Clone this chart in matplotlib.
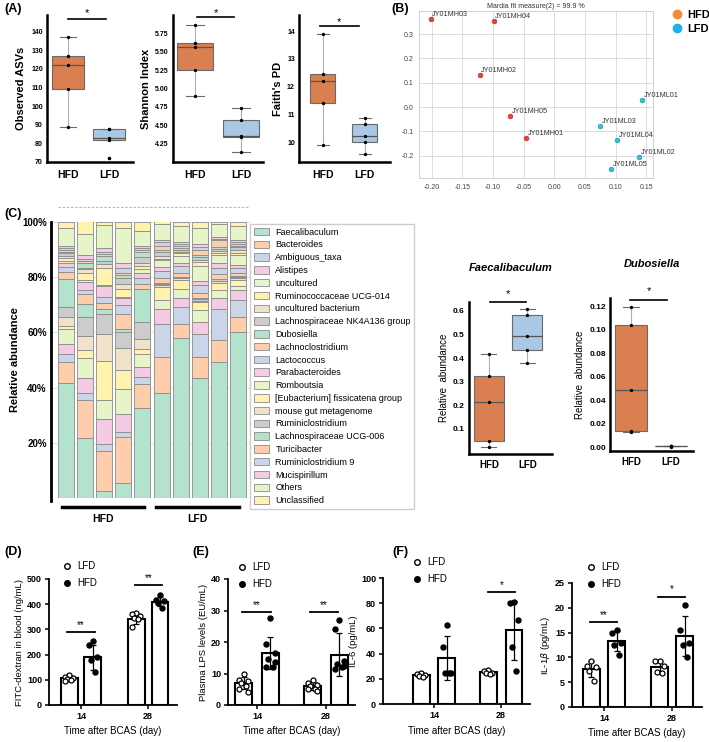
import numpy as np
import matplotlib
matplotlib.use('Agg')
import matplotlib.pyplot as plt
from matplotlib.patches import Patch
from matplotlib.lines import Line2D

plt.rcParams['font.family'] = ['Liberation Sans', 'DejaVu Sans']

W, H = 709, 742
ORANGE = '#DA8050'
BLUE = '#A8C8E4'

# (A) alpha diversity, 5 mice per group
asv_hfd = [89, 109, 122, 127, 137]
asv_lfd = [72, 82, 83, 88, 88]
shannon_hfd = [4.90, 5.25, 5.57, 5.62, 5.87]
shannon_lfd = [4.13, 4.34, 4.35, 4.57, 4.74]
faith_hfd = [9.9, 11.4, 12.2, 12.45, 13.9]
faith_lfd = [9.57, 10.0, 10.22, 10.65, 10.86]

# (B) ordination
names_h = ['JY01MH01', 'JY01MH02', 'JY01MH03', 'JY01MH04', 'JY01MH05']
x_h = [-0.046, -0.122, -0.202, -0.099, -0.072]
y_h = [-0.128, 0.132, 0.362, 0.354, -0.037]
names_l = ['JY01ML01', 'JY01ML02', 'JY01ML03', 'JY01ML04', 'JY01ML05']
x_l = [0.143, 0.138, 0.075, 0.103, 0.093]
y_l = [0.029, -0.206, -0.078, -0.136, -0.255]

# (C) genus composition (%), bottom to top
taxa = ['Faecalibaculum', 'Bacteroides', 'Ambiguous_taxa', 'Alistipes', 'uncultured',
        'Ruminococcaceae UCG-014', 'uncultured bacterium', 'Lachnospiraceae NK4A136 group',
        'Dubosiella', 'Lachnoclostridium', 'Lactococcus', 'Parabacteroides', 'Romboutsia',
        '[Eubacterium] fissicatena group', 'mouse gut metagenome', 'Ruminiclostridium',
        'Lachnospiraceae UCG-006', 'Turicibacter', 'Ruminiclostridium 9', 'Mucispirillum',
        'Others', 'Unclassified']
hfd1 = [41.5, 7.75, 3.0, 3.6, 5.4, 1.2, 3.3, 3.6, 10.0, 2.7, 1.8, 1.2, 1.0, 0.8, 0.8, 1.0, 0.6, 0.6, 0.6, 0.8, 6.7, 2.1]
hfd2 = [21.8, 13.7, 2.4, 5.6, 7.2, 3.1, 5.0, 6.6, 4.8, 3.6, 1.6, 2.9, 0.6, 2.7, 1.2, 0.6, 1.6, 0.8, 0.8, 1.6, 7.5, 4.5]
hfd3 = [2.7, 14.5, 2.4, 9.1, 6.8, 14.3, 9.8, 6.9, 1.8, 2.4, 2.1, 4.1, 0.4, 6.0, 1.6, 0.8, 2.0, 0.6, 1.0, 1.2, 8.3, 1.3]
hfd4 = [5.5, 16.6, 1.9, 6.4, 9.1, 6.8, 8.0, 5.7, 1.4, 5.4, 3.2, 2.4, 0.4, 3.0, 1.9, 2.0, 1.2, 0.6, 1.8, 1.8, 12.9, 2.1]
hfd5 = [32.6, 8.7, 2.6, 3.6, 4.8, 1.8, 3.6, 6.0, 11.9, 2.0, 2.1, 1.8, 1.4, 1.3, 1.1, 2.1, 1.8, 0.8, 0.7, 0.5, 5.7, 3.1]
lfd1 = [37.9, 13.1, 12.2, 5.4, 3.1, 4.7, 0.6, 0.4, 0.4, 1.8, 2.6, 1.4, 2.5, 0.6, 1.1, 1.4, 0.5, 1.7, 1.2, 0.7, 6.0, 1.0]
lfd2 = [57.8, 5.4, 6.0, 3.1, 3.5, 3.3, 0.5, 0.4, 0.1, 1.4, 2.4, 1.2, 2.6, 1.0, 0.6, 0.6, 0.6, 0.8, 0.7, 0.7, 5.7, 1.7]
lfd3 = [43.5, 7.5, 8.3, 4.4, 4.3, 2.9, 0.6, 0.6, 0.2, 2.1, 2.7, 1.4, 5.4, 1.6, 0.8, 1.0, 0.6, 2.0, 1.0, 1.0, 6.0, 2.1]
lfd4 = [49.3, 7.8, 11.3, 4.2, 2.7, 2.6, 0.8, 0.6, 0.2, 1.6, 2.1, 1.8, 3.2, 0.6, 0.7, 0.8, 0.6, 2.4, 0.6, 0.8, 4.5, 0.7]
lfd5 = [60.2, 5.4, 6.3, 3.6, 1.4, 2.1, 0.6, 0.6, 0.2, 1.2, 1.6, 1.2, 3.6, 0.8, 1.0, 1.0, 0.5, 0.7, 0.7, 0.7, 5.0, 1.7]
samples = [hfd1, hfd2, hfd3, hfd4, hfd5, lfd1, lfd2, lfd3, lfd4, lfd5]

faec_hfd = [0.025, 0.05, 0.215, 0.325, 0.418]
faec_lfd = [0.38, 0.435, 0.494, 0.583, 0.608]
dubo_hfd = [0.013, 0.014, 0.049, 0.104, 0.119]
dubo_lfd = [0.0005, 0.001, 0.001, 0.0012, 0.0015]

# (D)-(F) order: LFD14, HFD14, LFD28, HFD28
fitc_mean = [108, 190, 340, 410]
fitc_sd = [10, 50, 18, 18]
fitc_pts = [[120, 112, 108, 105, 100, 95], [255, 238, 190, 180, 130],
            [365, 360, 355, 345, 340, 310], [435, 418, 412, 405, 385]]
lps_mean = [7.0, 16.5, 6.0, 16.0]
lps_sd = [1.8, 5.0, 1.2, 6.8]
lps_pts = [[10, 8, 7.5, 7, 6, 5, 4], [27.5, 19.5, 16.5, 14.5, 12, 12, 13.5],
           [8, 7, 6.5, 6, 5, 5, 4.5], [27, 24, 14, 13, 12, 11.5, 12.5]]
il6_mean = [23, 36.5, 25.5, 58.5]
il6_sd = [1.5, 17.5, 1.2, 23.5]
il6_pts = [[25, 24, 23, 22, 21.5], [63, 45, 25, 25, 25],
           [27, 26, 25, 25, 24], [81, 80, 67, 45, 26]]
il1b_mean = [7.6, 13.3, 8.0, 14.3]
il1b_sd = [1.6, 2.0, 1.2, 4.0]
il1b_pts = [[9.3, 8.2, 8.0, 7.2, 5.2], [15.5, 15.0, 13.0, 12.5, 10.5],
            [9.3, 9.2, 8.2, 7.0, 6.8], [20.5, 15.5, 13.0, 12.5, 10.0]]
days = ['14', '28']


def add_ax(l, t, r, b):
    return fig.add_axes([l / W, 1 - b / H, (r - l) / W, (b - t) / H])


def fpos(x, y):
    return (x / W, 1 - y / H)


fig = plt.figure(figsize=(W / 100, H / 100), dpi=100)


def box_pair(ax, hfd, lfd, width, tsize=5, lsize=7.5):
    bp = ax.boxplot([hfd, lfd], positions=[1, 2], widths=width, patch_artist=True,
                    showfliers=False,
                    boxprops=dict(edgecolor='#6a6a6a', lw=0.8),
                    whiskerprops=dict(color='#b0b0b0', lw=0.8),
                    capprops=dict(color='#6a6a6a', lw=0.8),
                    medianprops=dict(color='#555555', lw=0.9))
    for patch, c in zip(bp['boxes'], [ORANGE, BLUE]):
        patch.set_facecolor(c)
    for pos, vals in zip([1, 2], [hfd, lfd]):
        ax.plot([pos] * len(vals), vals, 'o', ms=1.4, color='k', zorder=3)
    for s in ['top', 'right']:
        ax.spines[s].set_visible(False)
    for s in ['left', 'bottom']:
        ax.spines[s].set_linewidth(1.8)
    ax.set_xticks([1, 2])
    ax.set_xticklabels(['HFD', 'LFD'], fontsize=lsize, fontweight='bold')
    ax.tick_params(length=0, pad=4)
    ax.tick_params(axis='y', labelsize=tsize, pad=3)
    for t in ax.get_yticklabels():
        t.set_fontweight('bold')


def sig(ax, x0, x1, y, ys, txt, fs=8, lw=1.2):
    ax.plot([x0, x1], [y, y], color='k', lw=lw, clip_on=False)
    ax.text((x0 + x1) / 2, ys, txt, ha='center', va='center', fontsize=fs, clip_on=False)


# ---- (A)
ax = add_ax(47, 15, 133, 162)
box_pair(ax, asv_hfd, asv_lfd, 0.8)
ax.plot([2], [asv_lfd[0]], 'o', ms=1.4, color='k')
ax.set_xlim(0.49, 2.585)
ax.set_ylim(70, 149)
ax.set_yticks(range(70, 141, 10))
ax.set_ylabel('Observed ASVs', fontsize=8, fontweight='bold', labelpad=4)
ax.tick_params(axis='x', pad=6)
sig(ax, 1.0, 1.93, 147, 149.8, '*')

ax = add_ax(173, 15, 263, 162)
box_pair(ax, shannon_hfd, shannon_lfd, 0.8)
ax.set_xlim(0.52, 2.48)
ax.set_ylim(4.0, 6.0)
ax.set_yticks([4.25, 4.5, 4.75, 5.0, 5.25, 5.5, 5.75])
ax.set_ylabel('Shannon Index', fontsize=8, fontweight='bold', labelpad=3)
ax.tick_params(axis='x', pad=6)
sig(ax, 1.04, 1.85, 5.97, 6.02, '*')

ax = add_ax(299, 15, 390, 162)
box_pair(ax, faith_hfd, faith_lfd, 0.6)
ax.set_xlim(0.43, 2.6)
ax.set_ylim(9.28, 14.58)
ax.set_yticks([10, 11, 12, 13, 14])
ax.set_ylabel("Faith's PD", fontsize=8, fontweight='bold', labelpad=3)
ax.tick_params(axis='x', pad=6)
sig(ax, 0.93, 1.86, 14.18, 14.34, '*')

# ---- (B)
ax = add_ax(419, 11, 653, 178)
ax.scatter(x_h, y_h, s=12, color='#E5443A', edgecolor='#b02a22', lw=0.4, zorder=3)
ax.scatter(x_l, y_l, s=12, color='#35C3D6', edgecolor='#1f8fa0', lw=0.4, zorder=3)
for n, xx, yy in zip(names_h + names_l, x_h + x_l, y_h + y_l):
    ax.annotate(n, (xx, yy), xytext=(1.2, 0.8), textcoords='offset points',
                fontsize=5.2, color='#333333', va='bottom', ha='left')
ax.set_xlim(-0.221, 0.161)
ax.set_ylim(-0.292, 0.395)
ax.set_xticks([-0.20, -0.15, -0.10, -0.05, 0.0, 0.05, 0.10, 0.15])
ax.set_yticks([-0.2, -0.1, 0.0, 0.1, 0.2, 0.3])
ax.xaxis.set_major_formatter(matplotlib.ticker.FormatStrFormatter('%.2f'))
ax.yaxis.set_major_formatter(matplotlib.ticker.FormatStrFormatter('%.1f'))
ax.grid(True, color='#dcdcdc', lw=0.7)
ax.set_axisbelow(True)
for s in ax.spines.values():
    s.set_color('#d0d0d0')
    s.set_linewidth(0.7)
ax.tick_params(length=0, labelsize=5, colors='#444444', pad=4)
ax.set_title('Mardia fit measure(2) = 99.9 %', fontsize=5, color='#333333', pad=2)
fig.legend(handles=[Line2D([], [], marker='o', ls='', color='#F28C38', ms=6),
                    Line2D([], [], marker='o', ls='', color='#1EB2EA', ms=6)],
           labels=['HFD', 'LFD'], loc='upper left', bbox_to_anchor=fpos(661, 0),
           frameon=False, prop=dict(weight='bold', size=8), handletextpad=0.5,
           labelspacing=0.35, handlelength=1.0)

# ---- (C) stacked bars
ax = add_ax(51, 222, 250, 498)
cols = plt.get_cmap('Pastel2').colors
bottom = np.zeros(len(samples))
xs = np.arange(len(samples))
for i, name in enumerate(taxa):
    vals = np.array([s[i] for s in samples]) / 100
    ax.bar(xs, vals, width=0.84, bottom=bottom, color=cols[i % 8],
           edgecolor='#8a8a8a', lw=0.6, zorder=2)
    bottom += vals
ax.set_xlim(-0.785, 9.63)
ax.set_ylim(0, 1.0)
ax.set_yticks([0.2, 0.4, 0.6, 0.8, 1.0])
ax.set_yticklabels(['20%', '40%', '60%', '80%', '100%'], fontsize=7, fontweight='bold')
ax.yaxis.grid(True, color='#dddddd', lw=0.6)
ax.set_axisbelow(True)
ax.set_xticks([])
for s in ['top', 'right', 'bottom']:
    ax.spines[s].set_visible(False)
ax.spines['left'].set_linewidth(2)
ax.spines['left'].set_bounds(-0.012, 1.0)
ax.tick_params(length=0, pad=3)
ax.set_ylabel('Relative abundance', fontsize=8, fontweight='bold')
ax.yaxis.set_label_coords(-0.155, 0.5)
ax.plot([-0.21, 4.08], [-0.033, -0.033], color='k', lw=2.5, clip_on=False)
ax.plot([4.71, 9.06], [-0.033, -0.033], color='k', lw=2.5, clip_on=False)
ax.text(1.93, -0.076, 'HFD', ha='center', va='center', fontsize=7.5, fontweight='bold')
ax.text(6.88, -0.076, 'LFD', ha='center', va='center', fontsize=7.5, fontweight='bold')
ax.plot([-0.4, 9.5], [1.055, 1.055], color='#aaaaaa', lw=0.6, ls=(0, (3, 2)), clip_on=False)
fig.legend(handles=[Patch(facecolor=cols[i % 8], edgecolor='#8a8a8a', lw=0.6) for i in range(len(taxa))],
           labels=taxa, loc='upper left', bbox_to_anchor=fpos(250, 224), fontsize=6.5,
           frameon=True, fancybox=False, edgecolor='#cccccc', framealpha=1,
           labelspacing=0.42, handlelength=1.7, handleheight=0.9, handletextpad=0.7,
           borderpad=0.4, borderaxespad=0)

# (C) single genus boxplots
ax = add_ax(469, 302, 552, 454)
box_pair(ax, faec_hfd, faec_lfd, 0.78, tsize=6, lsize=7)
ax.set_xlim(0.48, 2.64)
ax.set_ylim(-0.006, 0.638)
ax.set_yticks([0.1, 0.2, 0.3, 0.4, 0.5, 0.6])
ax.set_ylabel('Relative  abundance', fontsize=7, labelpad=3)
ax.set_title('Faecalibaculum', fontsize=8, fontweight='bold', fontstyle='italic', pad=22)
sig(ax, 1.03, 1.96, 0.638, 0.673, '*')

ax = add_ax(610, 298, 693, 451)
box_pair(ax, dubo_hfd, dubo_lfd, 0.8, tsize=6, lsize=7)
ax.set_xlim(0.475, 2.55)
ax.set_ylim(-0.003, 0.127)
ax.set_yticks([0.0, 0.02, 0.04, 0.06, 0.08, 0.10, 0.12])
ax.yaxis.set_major_formatter(matplotlib.ticker.FormatStrFormatter('%.2f'))
for t in ax.get_yticklabels():
    t.set_fontweight('bold')
ax.set_ylabel('Relative  abundance', fontsize=7, labelpad=3)
ax.set_title('Dubosiella', fontsize=8, fontweight='bold', fontstyle='italic', pad=22)
sig(ax, 0.98, 1.9, 0.125, 0.1325, '*')


# ---- (D)-(F)
def bar_panel(ax, means, sds, pts, d, ylim, yticks, ylabel, leg_xy):
    pos = [0 - d, 0 + d, 1 - d, 1 + d]
    ax.bar(pos, means, width=0.25, color='white', edgecolor='k', lw=1.5, zorder=1)
    ax.errorbar(pos, means, yerr=sds, fmt='none', ecolor='k', elinewidth=0.9,
                capsize=2.5, capthick=0.9, zorder=2)
    offs = [0.0, -0.06, 0.06, -0.03, 0.03, -0.07, 0.07]
    for k, (p, vals) in enumerate(zip(pos, pts)):
        xx = [p + offs[j % len(offs)] for j in range(len(vals))]
        if k % 2 == 0:
            ax.plot(xx, vals, 'o', ms=3.6, mfc='white', mec='k', mew=0.9, zorder=3, clip_on=False)
        else:
            ax.plot(xx, vals, 'o', ms=3.6, mfc='k', mec='k', zorder=3, clip_on=False)
    ax.set_ylim(*ylim)
    ax.set_yticks(yticks)
    ax.set_xticks([0, 1])
    ax.set_xticklabels(days)
    for s in ['top', 'right']:
        ax.spines[s].set_visible(False)
    for s in ['left', 'bottom']:
        ax.spines[s].set_linewidth(1.3)
    ax.tick_params(width=1.1, length=3, labelsize=6.5, pad=2)
    for t in ax.get_yticklabels() + ax.get_xticklabels():
        t.set_fontweight('bold')
    ax.set_ylabel(ylabel, fontsize=6.8, labelpad=2)
    ax.set_xlabel('Time after BCAS (day)', fontsize=7, labelpad=4)
    fig.legend(handles=[Line2D([], [], marker='o', ls='', mfc='white', mec='k', ms=4, mew=1),
                        Line2D([], [], marker='o', ls='', mfc='k', mec='k', ms=4)],
               labels=['LFD', 'HFD'], loc='upper left', bbox_to_anchor=fpos(*leg_xy),
               frameon=False, fontsize=7, handletextpad=0.6, labelspacing=0.75,
               handlelength=1.0, borderaxespad=0, borderpad=0)


ax = add_ax(49, 579, 177, 705)
bar_panel(ax, fitc_mean, fitc_sd, fitc_pts, 0.175, (0, 500), range(0, 501, 100),
          'FITC-dextran in blood (ng/mL)', (62, 561))
ax.set_xlim(-0.478, 1.43)
sig(ax, -0.21, 0.21, 290, 318, '**', fs=7, lw=1.3)
sig(ax, 0.81, 1.21, 476, 504, '**', fs=7, lw=1.3)

ax = add_ax(228, 579, 355, 705)
bar_panel(ax, lps_mean, lps_sd, lps_pts, 0.195, (0, 40), range(0, 41, 10),
          'Plasma LPS levels (EU/mL)', (237, 562))
ax.set_xlim(-0.42, 1.42)
sig(ax, -0.22, 0.2, 29.5, 31.8, '**', fs=7, lw=1.3)
sig(ax, 0.77, 1.17, 29.5, 31.8, '**', fs=7, lw=1.3)

ax = add_ax(383, 578, 530, 704)
bar_panel(ax, il6_mean, il6_sd, il6_pts, 0.19, (0, 100), range(0, 101, 20),
          'IL-6 (pg/mL)', (412, 557))
ax.set_xlim(-0.76, 1.43)
sig(ax, 0.81, 1.21, 88.9, 94, '*', fs=7, lw=1.3)

ax = add_ax(572, 583, 702, 707)
bar_panel(ax, il1b_mean, il1b_sd, il1b_pts, 0.184, (0, 25), range(0, 26, 5),
          'IL-1$\\beta$ (pg/mL)', (586, 562))
ax.set_xlim(-0.47, 1.44)
sig(ax, -0.21, 0.19, 17.1, 18.6, '**', fs=7, lw=1.3)
sig(ax, 0.79, 1.19, 22.2, 23.7, '*', fs=7, lw=1.3)

# panel letters
for lab, (px, py) in zip(['(A)', '(B)', '(C)', '(D)', '(E)', '(F)'],
                         [(4, 9), (391, 9), (4, 214), (4, 552), (192, 552), (392, 552)]):
    fig.text(*fpos(px, py), lab, fontsize=9, fontweight='bold', va='center', ha='left')

fig.savefig('out.png', dpi=100)
